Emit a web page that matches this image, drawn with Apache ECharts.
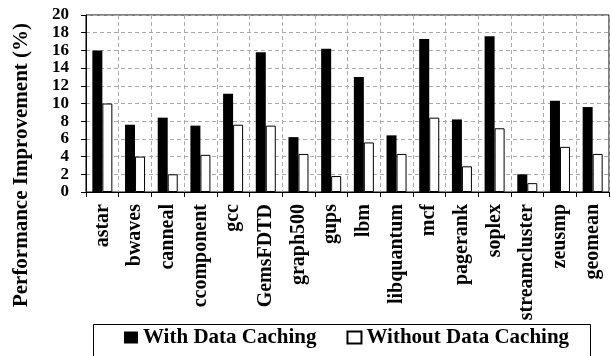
<!DOCTYPE html>
<html>
<head>
<meta charset="utf-8">
<script src="https://cdn.jsdelivr.net/npm/echarts@6/dist/echarts.min.js"></script>
<style>html,body{margin:0;padding:0;background:#fff;}#c{width:611px;height:356px;}</style>
</head>
<body>
<div id="c"></div>
<script>
var categories = ['astar','bwaves','canneal','ccomponent','gcc','GemsFDTD','graph500','gups','lbm','libquantum','mcf','pagerank','soplex','streamcluster','zeusmp','geomean'];
var withCaching = [16.0, 7.6, 8.4, 7.5, 11.1, 15.8, 6.2, 16.2, 13.0, 6.4, 17.3, 8.2, 17.6, 2.0, 10.3, 9.6];
var withoutCaching = [10.0, 4.0, 2.0, 4.2, 7.6, 7.5, 4.3, 1.8, 5.6, 4.3, 8.4, 2.9, 7.2, 1.0, 5.1, 4.3];
var yTicks = {min: 0, max: 20, interval: 2};
var seriesNames = ['With Data Caching', 'Without Data Caching'];
var yName = 'Performance Improvement (%)';

var FONT = '"Liberation Serif", "Times New Roman", serif';
var chart = echarts.init(document.getElementById('c'), null, {renderer: 'canvas'});
chart.setOption({
  animation: false,
  backgroundColor: '#fff',
  grid: {left: 86, right: 2, top: 15, bottom: 164, show: true, borderColor: '#000', borderWidth: 1, backgroundColor: 'transparent'},
  xAxis: {
    type: 'category',
    data: categories,
    axisLine: {lineStyle: {color: '#000', width: 1}},
    axisTick: {show: true, length: 5, lineStyle: {color: '#000'}},
    splitLine: {show: true, lineStyle: {color: '#aaa', type: [4, 3]}},
    axisLabel: {interval: 0, rotate: 90, margin: 12, color: '#000', fontFamily: FONT, fontWeight: 'bold', fontSize: 20}
  },
  yAxis: {
    type: 'value',
    min: yTicks.min, max: yTicks.max, interval: yTicks.interval,
    axisLine: {show: true, lineStyle: {color: '#000', width: 1}},
    axisTick: {show: true, length: 5, lineStyle: {color: '#000'}},
    splitLine: {show: true, lineStyle: {color: '#aaa', type: [4, 3]}},
    axisLabel: {margin: 17, color: '#000', fontFamily: FONT, fontWeight: 'bold', fontSize: 17}
  },
  legend: {
    left: 119, top: 322,
    itemWidth: 14, itemHeight: 12, itemGap: 30,
    icon: 'rect',
    textStyle: {color: '#000', fontFamily: FONT, fontWeight: 'bold', fontSize: 21},
    data: seriesNames
  },
  graphic: [
    {type: 'rect', shape: {x: 93.5, y: 324.5, width: 497, height: 60}, style: {fill: 'none', stroke: '#000', lineWidth: 1}, z: 100},
    {type: 'text', x: 22, y: 165, rotation: Math.PI / 2, style: {text: yName, fill: '#000', font: 'bold 21px ' + FONT, textAlign: 'center', textVerticalAlign: 'middle'}}
  ],
  series: [
    {name: seriesNames[0], type: 'bar', data: withCaching, barWidth: 10, barGap: '0%',
     itemStyle: {color: '#000', borderColor: '#000', borderWidth: 0}},
    {name: seriesNames[1], type: 'bar', data: withoutCaching, barWidth: 10, barGap: '0%',
     itemStyle: {color: '#fff', borderColor: '#000', borderWidth: 1}}
  ]
});
</script>
</body>
</html>
